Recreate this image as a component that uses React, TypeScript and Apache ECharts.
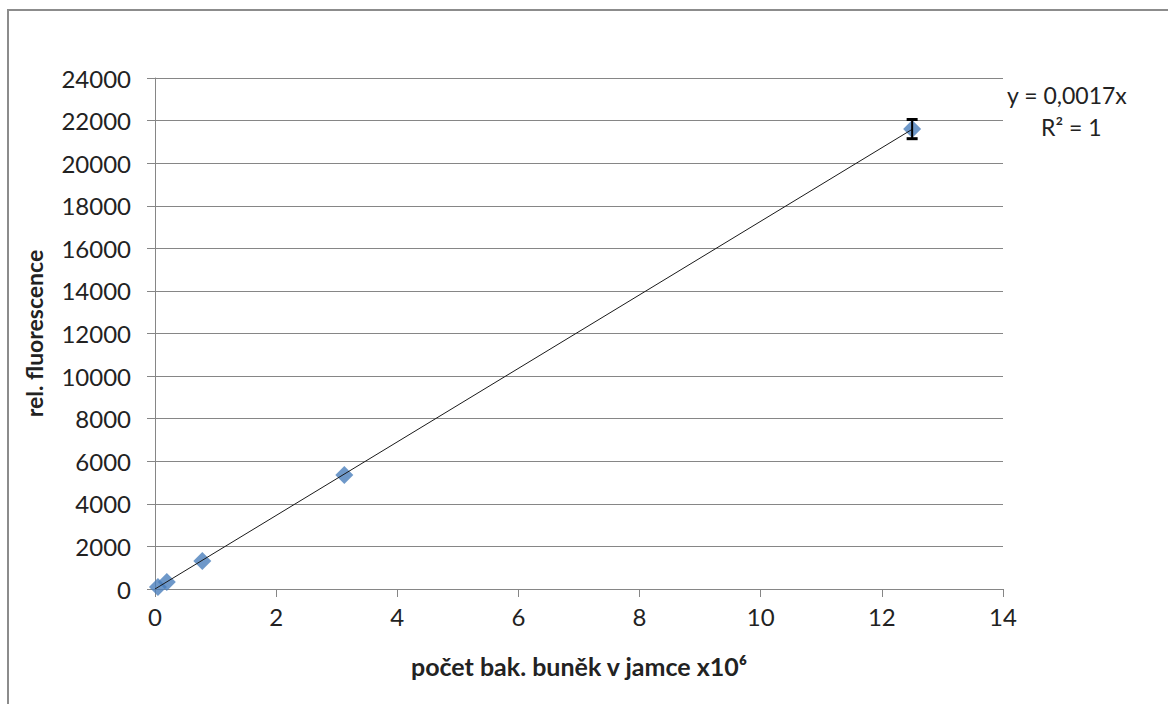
import React, { useEffect, useRef } from "react";
import * as echarts from "echarts";

// Cell counts per well (x10^6) and measured relative fluorescence
const cellCounts = [0.049, 0.195, 0.781, 3.125, 12.5];
const fluorescence = [90, 330, 1320, 5360, 21600];
const errors = [0, 0, 0, 0, 450];

const xTicks = { min: 0, max: 14, interval: 2 };
const yTicks = { min: 0, max: 24000, interval: 2000 };

const FONT = "Lato, 'Open Sans', sans-serif";

export default function App() {
  const ref = useRef<HTMLDivElement>(null);

  useEffect(() => {
    if (!ref.current) return;
    const chart = echarts.init(ref.current, undefined, { renderer: "svg" });

    // least-squares line through the origin
    let sxy = 0;
    let sxx = 0;
    cellCounts.forEach((x, i) => {
      sxy += x * fluorescence[i];
      sxx += x * x;
    });
    const slope = sxy / sxx;
    const xEnd = cellCounts[cellCounts.length - 1];
    const trend = [
      [0, 0],
      [xEnd, slope * xEnd],
    ];

    const points = cellCounts.map((x, i) => [x, fluorescence[i]]);
    const errData = cellCounts.map((x, i) => [x, fluorescence[i] - errors[i], fluorescence[i] + errors[i]]);

    chart.setOption({
      animation: false,
      backgroundColor: "#ffffff",
      grid: { left: 155, right: 165, top: 78, bottom: 115 },
      xAxis: {
        type: "value",
        ...xTicks,
        name: "počet bak. buněk v jamce x10⁶",
        nameLocation: "middle",
        nameGap: 64,
        nameTextStyle: { fontFamily: FONT, fontSize: 25, fontWeight: "bold", color: "#222" },
        axisLine: { show: true, lineStyle: { color: "#868686", width: 1 } },
        axisTick: { show: true, length: 8, lineStyle: { color: "#868686" } },
        axisLabel: { margin: 15, fontFamily: FONT, fontSize: 24, color: "#222" },
        splitLine: { show: false },
      },
      yAxis: {
        type: "value",
        ...yTicks,
        name: "rel. fluorescence",
        nameLocation: "middle",
        nameGap: 110,
        nameTextStyle: { fontFamily: FONT, fontSize: 23, fontWeight: "bold", color: "#222" },
        axisLine: { show: true, lineStyle: { color: "#868686", width: 1 } },
        axisTick: { show: true, length: 8, lineStyle: { color: "#868686" } },
        axisLabel: {
          margin: 24,
          fontFamily: FONT,
          fontSize: 24,
          color: "#222",
          formatter: (v: number) => String(v),
        },
        splitLine: { show: true, lineStyle: { color: "#868686", width: 1 } },
      },
      graphic: [
        {
          type: "rect",
          shape: { x: 8, y: 10, width: 1300, height: 900 },
          style: { fill: "none", stroke: "#8c8c8c", lineWidth: 2 },
          silent: true,
        },
        {
          type: "text",
          left: 1007,
          top: 83,
          style: { text: "y = 0,0017x", font: `23px ${FONT}`, fill: "#222" },
        },
        {
          type: "text",
          left: 1041,
          top: 115,
          style: { text: "R² = 1", font: `23px ${FONT}`, fill: "#222" },
        },
      ],
      series: [
        {
          type: "line",
          data: trend,
          showSymbol: false,
          symbol: "none",
          lineStyle: { color: "#1a1a1a", width: 1 },
          z: 3,
        },
        {
          type: "scatter",
          data: points,
          symbol: "diamond",
          symbolSize: 18,
          itemStyle: { color: "#4a7ebb" },
          z: 2,
        },
        {
          type: "custom",
          data: errData,
          z: 4,
          renderItem: (params: any, api: any) => {
            const x = api.value(0);
            const lo = api.coord([x, api.value(1)]);
            const hi = api.coord([x, api.value(2)]);
            if (Math.abs(hi[1] - lo[1]) < 1) return { type: "group", children: [] };
            const cap = 5.5;
            const style = { stroke: "#000", lineWidth: 2 };
            return {
              type: "group",
              children: [
                { type: "line", shape: { x1: lo[0], y1: lo[1], x2: hi[0], y2: hi[1] }, style },
                { type: "line", shape: { x1: lo[0] - cap, y1: lo[1], x2: lo[0] + cap, y2: lo[1] }, style: { ...style, lineWidth: 3 } },
                { type: "line", shape: { x1: hi[0] - cap, y1: hi[1], x2: hi[0] + cap, y2: hi[1] }, style: { ...style, lineWidth: 3 } },
              ],
            };
          },
        },
      ],
    });

    return () => chart.dispose();
  }, []);

  return (
    <div
      ref={ref}
      style={{ position: "fixed", left: 0, top: 0, width: 1168, height: 704 }}
    />
  );
}
